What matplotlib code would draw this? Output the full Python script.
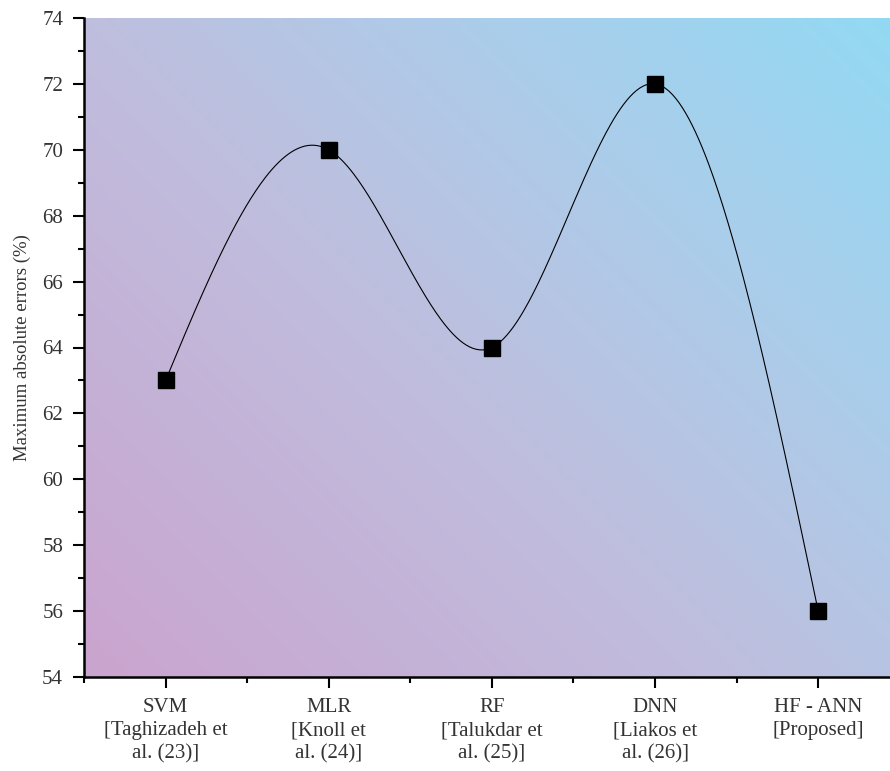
import numpy as np
import matplotlib.pyplot as plt
from matplotlib.colors import LinearSegmentedColormap
from matplotlib.ticker import MultipleLocator

plt.rcParams['font.family'] = ['Liberation Serif', 'DejaVu Serif']

# data
models = ['SVM\n[Taghizadeh et\nal. (23)]', 'MLR\n[Knoll et\nal. (24)]',
          'RF\n[Talukdar et\nal. (25)]', 'DNN\n[Liakos et\nal. (26)]',
          'HF - ANN\n[Proposed]']
max_err = [63, 70, 64, 72, 56]


def natural_spline(x, y, n=400):
    # natural cubic spline, like the smooth line Origin draws
    x = np.asarray(x, float)
    y = np.asarray(y, float)
    k = len(x)
    h = np.diff(x)
    A = np.zeros((k, k))
    b = np.zeros(k)
    A[0, 0] = A[-1, -1] = 1
    for i in range(1, k - 1):
        A[i, i - 1] = h[i - 1]
        A[i, i] = 2 * (h[i - 1] + h[i])
        A[i, i + 1] = h[i]
        b[i] = 6 * ((y[i + 1] - y[i]) / h[i] - (y[i] - y[i - 1]) / h[i - 1])
    m = np.linalg.solve(A, b)
    xs = np.linspace(x[0], x[-1], n)
    idx = np.clip(np.searchsorted(x, xs) - 1, 0, k - 2)
    x0, x1 = x[idx], x[idx + 1]
    hh = x1 - x0
    t0, t1 = x1 - xs, xs - x0
    ys = (m[idx] * t0**3 + m[idx + 1] * t1**3) / (6 * hh) \
        + (y[idx] / hh - m[idx] * hh / 6) * t0 \
        + (y[idx + 1] / hh - m[idx + 1] * hh / 6) * t1
    return xs, ys


fig = plt.figure(figsize=(8.9, 7.71), dpi=100)
ax = fig.add_axes([84 / 890, 94 / 771, 806 / 890, 659 / 771])

pos = np.arange(1, len(models) + 1)
xmin, xmax, ymin, ymax = 0.5, 5.44, 54, 74

# diagonal gradient background
cmap = LinearSegmentedColormap.from_list(
    'bg', [(0, '#CAA4CE'), (0.45, '#BFBEDE'), (0.72, '#ABCDEA'),
           (1, '#93D9F3')])
gx, gy = np.meshgrid(np.linspace(0, 1, 300), np.linspace(0, 1, 300))
grad = (gx * 0.55 + gy * 0.45)
ax.imshow(grad, extent=[xmin, xmax, ymin, ymax], origin='lower',
          cmap=cmap, aspect='auto', zorder=0, interpolation='bicubic')

xs, ys = natural_spline(pos, max_err)
ax.plot(xs, ys, color='black', lw=0.8, zorder=2)
ax.plot(pos, max_err, 's', color='black', ms=11, zorder=3)

ax.set_xlim(xmin, xmax)
ax.set_ylim(ymin, ymax)
ax.set_xticks(pos)
ax.set_xticklabels(models, fontsize=15, linespacing=1.3)
ax.xaxis.set_minor_locator(MultipleLocator(0.5))
ax.yaxis.set_major_locator(MultipleLocator(2))
ax.yaxis.set_minor_locator(MultipleLocator(1))
ax.tick_params(axis='y', labelsize=15)
ax.tick_params(which='major', direction='out', length=8, width=1.5, pad=7,
               colors='black', labelcolor='#333333')
ax.tick_params(which='minor', direction='out', length=4, width=1.5)
ax.set_ylabel('Maximum absolute errors (%)', fontsize=13.5, color='#333333',
              labelpad=8)

for s in ['top', 'right']:
    ax.spines[s].set_visible(False)
for s in ['left', 'bottom']:
    ax.spines[s].set_linewidth(1.8)

fig.savefig('out.png', dpi=100)
